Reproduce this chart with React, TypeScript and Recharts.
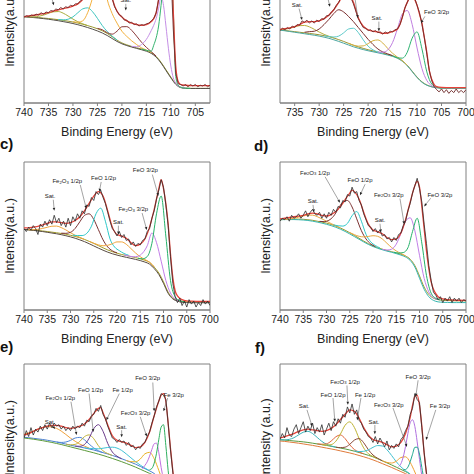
import React from "react";
import {
  LineChart,
  Line,
  XAxis,
  YAxis,
  ReferenceArea,
  ReferenceLine,
  ReferenceDot,
} from "recharts";

const FONT = '"Liberation Sans", Arial, Helvetica, sans-serif';

// energy grids (eV)
const E1 = [740, 739, 738, 737, 736, 735, 734, 733, 732, 731, 730, 729, 728, 727, 726, 725, 724, 723, 722, 721, 720, 719, 718, 717, 716, 715, 714, 713, 712, 711, 710, 709, 708, 707, 706, 705, 704, 703, 702, 701, 700];
const E05 = [
  740, 739.5, 739, 738.5, 738, 737.5, 737, 736.5, 736, 735.5,
  735, 734.5, 734, 733.5, 733, 732.5, 732, 731.5, 731, 730.5,
  730, 729.5, 729, 728.5, 728, 727.5, 727, 726.5, 726, 725.5,
  725, 724.5, 724, 723.5, 723, 722.5, 722, 721.5, 721, 720.5,
  720, 719.5, 719, 718.5, 718, 717.5, 717, 716.5, 716, 715.5,
  715, 714.5, 714, 713.5, 713, 712.5, 712, 711.5, 711, 710.5,
  710, 709.5, 709, 708.5, 708, 707.5, 707, 706.5, 706, 705.5,
  705, 704.5, 704, 703.5, 703, 702.5, 702, 701.5, 701, 700.5,
  700,
];

const TICKS_FULL = [740, 735, 730, 725, 720, 715, 710, 705, 700];
const TICKS_A = [740, 735, 730, 725, 720, 715, 710, 705];
const TICKS_B = [735, 730, 725, 720, 715, 710, 705, 700];

// ---------- panel a ----------
const aBg = [58.3, 58.1, 57.9, 57.7, 57.4, 57.1, 56.7, 56.3, 55.8, 55.3, 54.7, 54, 53.2, 52.3, 51.3, 50.2, 48.8, 47, 44.8, 42.5, 40.6, 39.3, 38.2, 37.3, 36.5, 35.5, 34, 31.5, 27.5, 22.5, 17.5, 13, 10.6, 10, 9.9, 9.9, 9.9, 9.9, 9.9, 9.9, 9.9];
const aBg2 = [58.3, 58, 57.7, 57.4, 57, 56.6, 56.1, 55.6, 55, 54.4, 53.7, 52.9, 52, 51, 49.9, 48.7, 47.3, 45.6, 43.6, 41.6, 40, 38.8, 37.8, 36.9, 36, 35, 33.5, 31, 27, 22, 17, 12.6, 10.4, 9.9, 9.8, 9.8, 9.8, 9.8, 9.8, 9.8, 9.8];
const aRaw = [
  58, 59, 58.5, 59.5, 59, 60, 59.5, 61, 60, 61.5,
  61, 62.5, 62, 63.5, 63, 64.5, 63.5, 65, 64.5, 66,
  65.5, 67, 67, 69, 70, 73, 76, 80, 85, 90,
  95, 97, 98, 94, 88, 80, 71, 65, 62, 59.5,
  58.5, 56, 56, 54, 54.5, 53, 53.5, 52, 53, 52.5,
  53.5, 54, 55.5, 57, 61, 70, 84, 97, 110, 110,
  90, 50, 20, 13, 12.5, 11.5, 12.5, 11, 12.5, 11.5,
  12.5, 11, 12, 11.5, 12.5, 11, 12, 11.5, 12.5, 11,
  12,
];
const aFit = [[740, 58.3], [739, 58.8], [738, 59.3], [737, 59.8], [736, 60.4], [735, 61], [734, 62], [733, 63], [732, 63.8], [731, 64.5], [730, 65.5], [729, 67], [728, 70], [727, 76], [726, 85], [725, 95], [724, 98], [723, 88], [722, 71], [721, 62], [720, 58], [719, 55.5], [718, 54], [717, 53], [716, 52.5], [715, 53], [714, 55], [713.5, 57], [713, 61], [712.5, 70], [712, 84], [711, 110], [710, 105], [709.5, 62], [709, 25], [708.5, 14.5], [708, 12.5], [707, 12], [706, 11.8], [704, 11.8], [700, 11.8]];
const aSat = [[739, 58.2], [738, 58.2], [737, 58.6], [736, 59.4], [735, 60.6], [734, 61.6], [733, 61.8], [732, 60.7], [731, 58.8], [730, 56.7], [729, 54.9], [728, 53.5], [727, 52.3]];
const aCyan = [[733, 56.4], [732, 56.2], [731, 56.6], [730, 58.2], [729, 61], [728, 63.6], [727, 64.3], [726, 61.7], [725, 57.2], [724, 52.3], [723, 48.3], [722, 45.2], [721, 42.6]];
const aOrange = [[730, 54.9], [729, 54.6], [728, 55.5], [727, 61], [726, 71], [725, 84], [724.5, 88], [724, 87], [723, 70], [722, 60.5], [721, 54], [720, 48.5], [719, 45], [718, 42], [717, 39.5], [716, 37.3], [715, 35.8], [714, 34.1]];
const aBrown = [[725, 50.4], [724, 49.5], [723, 47.5], [722, 46.5], [721, 48.5], [720, 51.5], [719, 51.6], [718, 49.1], [717, 45.2], [716, 41.1], [715, 37.6], [714, 34.7], [713, 31.7]];
const aViolet = [[718, 38.3], [717, 38], [716, 39.5], [715, 43], [714, 49], [713.5, 52.5], [713, 57], [712.5, 64], [712, 72], [711.5, 66], [711, 52], [710.5, 37], [710, 25], [709.5, 17], [709, 13.5], [708, 10.7], [707, 10]];
const aGreen = [[716, 36.5], [715, 35.6], [714, 35], [713.5, 39], [713, 44], [712.5, 52], [712, 66], [711.5, 82], [711, 100], [710.5, 112], [710, 100], [709.5, 62], [709, 18], [708.5, 12], [708, 10.7], [707, 10], [706, 9.9]];
const aNotes = [[719.2, 69.3, "Sat."]];
const aArrows = [[719.2, 67, 719.2, 62.5], [734.8, 76, 733.9, 66]];

// ---------- panel b ----------
const bBg = [49.8, 49.5, 49.3, 49, 48.6, 48.2, 47.8, 47.4, 47, 46.6, 46.1, 45.5, 44.8, 43.9, 42.8, 41.6, 40.3, 39, 37.9, 36.9, 36, 35.2, 34.4, 33.6, 32.8, 31.9, 30.5, 28.5, 25.5, 21.5, 17.5, 14.3, 12.2, 11, 10.4, 10.1, 10, 10, 10, 10, 10];
const bBg2 = [49.8, 49.5, 49.2, 48.8, 48.3, 47.8, 47.3, 46.8, 46.3, 45.8, 45.2, 44.5, 43.7, 42.7, 41.6, 40.4, 39.2, 38, 37, 36.1, 35.3, 34.6, 33.9, 33.2, 32.4, 31.5, 30.2, 28.2, 25.2, 21.2, 17.2, 14, 12, 10.9, 10.3, 10, 9.9, 9.9, 9.9, 9.9, 9.9];
const bRaw = [
  48.5, 49.5, 49, 50, 49, 50.5, 49.5, 51, 50, 52,
  51, 53, 52.5, 55.5, 54.5, 56, 54, 55.5, 54, 56,
  55, 57, 56.5, 59, 59, 61.5, 63, 66, 68, 72,
  74, 75, 74, 71, 67, 62, 57, 54, 51, 50.5,
  49, 49.5, 48, 49, 47.5, 48, 46.5, 48, 47, 48.5,
  48, 49.5, 50, 53, 58, 64, 68, 72, 73, 71,
  66, 61, 53, 44, 33, 22, 15, 11, 9, 7.5,
  9.5, 7, 9, 6.5, 8.5, 7, 9.5, 7, 8.5, 7,
  9,
];
const bFit = [[740, 49.5], [739, 49.6], [738, 49.8], [737, 50.2], [736, 50.8], [735, 51.6], [734, 53], [733, 54.6], [732, 55], [731, 55], [730, 55.5], [729, 57], [728, 59.5], [727, 63], [726, 68], [725, 73], [724, 74], [723, 68], [722, 57.5], [721, 52], [720, 49.5], [719, 48.5], [718, 48], [717, 47], [716, 47.3], [715, 48.3], [714, 50], [713.5, 53], [713, 58], [712.5, 64], [712, 68], [711.5, 71], [711, 72], [710.5, 70], [710, 66], [709.5, 60], [709, 54], [708.5, 44], [708, 34], [707.5, 22], [707, 16], [706.5, 12.5], [706, 11], [705, 10.5], [704, 10.4], [700, 10.4]];
const bSat1 = [[740, 49.9], [739, 49.7], [738, 49.6], [737, 49.85], [736, 50.45], [735, 51.4], [734, 52.25], [733, 52.4], [732, 51.45], [731, 49.8], [730, 47.95], [729, 46.35], [728, 45.1], [727, 43.95]];
const bFe2O3a = [[733, 47.8], [732, 48.2], [731, 48.5], [730, 50], [729, 53], [728, 56.5], [727, 60.5], [726, 63], [725, 61.5], [724, 58.5], [723, 55], [722, 51], [721, 47], [720, 43], [719, 39.5], [718, 36.5], [717, 34.5], [716, 33.2], [715, 32]];
const bFeOa = [[729, 45.5], [728, 44.9], [727, 44.6], [726, 45.2], [725, 47.4], [724, 50], [723, 50.5], [722, 47.6], [721, 42.7], [720, 38.4], [719, 35.9], [718, 34.5], [717, 33.6]];
const bSat2 = [[724, 40.3], [723, 39.1], [722, 38.4], [721, 38.6], [720, 40.1], [719, 42.1], [718, 42.6], [717, 40.5], [716, 36.9], [715, 33.6], [714, 31], [713, 28.6], [712, 25.5]];
const bFe2O3b = [[718, 34.4], [717, 34.3], [716, 35.8], [715, 40.9], [714, 50.2], [713, 60.1], [712, 62.5], [711, 53.1], [710, 37.2], [709, 23.3], [708, 15.2], [707, 11.7], [706, 10.4]];
const bFeOb = [[715, 31.9], [714, 30.6], [713, 30.3], [712, 34.3], [711, 43.8], [710, 48], [709, 36.6], [708, 21], [707, 12.8], [706, 10.7], [705, 10.1]];
const bNotes = [[734.5, 66.2, "Sat."], [718.2, 57.4, "Sat."], [706, 61.5, "FeO 3/2p"]];
const bArrows = [[734.1, 63.8, 733.5, 56], [717.8, 55, 717.8, 48.5], [708.4, 58.5, 709.2, 54], [728.6, 76, 727.8, 65], [722.9, 76, 722.1, 57.4]];

// ---------- panel c ----------
const cBg = [54.5, 54.2, 54, 53.7, 53.4, 53, 52.6, 52.2, 51.7, 51.2, 50.5, 49.7, 48.8, 47.7, 46.4, 45, 43.5, 42, 40.6, 39.4, 38.4, 37.5, 36.8, 36.1, 35.4, 34.6, 33.6, 32.2, 29, 25, 19, 12, 8, 6.5, 5.8, 5.6, 5.5, 5.4, 5.4, 5.4, 5.4];
const cBg2 = [54.5, 54.1, 53.8, 53.4, 53, 52.5, 52, 51.5, 50.9, 50.2, 49.4, 48.5, 47.4, 46.2, 44.8, 43.3, 41.8, 40.4, 39.1, 38, 37.1, 36.3, 35.6, 34.9, 34.2, 33.4, 32.4, 31, 28, 24, 18, 11.3, 7.5, 6, 5.2, 5, 4.9, 4.9, 4.9, 4.9, 4.9];
const cRaw = [
  55, 53, 56, 54, 57, 55, 51, 58, 56, 60,
  57, 61, 58, 64, 59, 62, 57, 60, 56, 62,
  57, 63, 60, 65, 62, 67, 65, 71, 70, 76,
  74, 80, 78, 81, 76, 72, 66, 60, 55, 53,
  50, 53, 49, 51, 47, 48, 44, 46, 43, 45,
  44, 47, 48, 53, 55, 62, 67, 75, 81, 88,
  83, 71, 57, 36, 18, 9, 5, 8, 3, 6,
  2, 7, 4, 6, 2, 5, 3, 7, 4, 6,
  3,
];
const cFit = [[740, 55.5], [739, 55.5], [738, 56], [737, 56.5], [736, 57.5], [735, 58.5], [734, 59.5], [733, 59.5], [732, 59], [731, 58.5], [730, 59], [729, 60.5], [728, 63], [727, 67], [726, 72], [725, 77], [724, 80], [723, 77], [722, 67], [721, 56], [720, 51], [719, 50], [718, 48.5], [717, 45.5], [716, 43.5], [715, 44.5], [714, 48], [713, 56], [712, 68], [711, 82], [710.5, 88], [710, 82], [709.5, 72], [709, 58], [708.5, 38], [708, 22], [707.5, 13], [707, 9.5], [706, 7], [705, 6.2], [704, 6], [702, 5.8], [700, 5.8]];
const cSat1 = [[739, 54.3], [738, 54.3], [737, 54.5], [736, 55.1], [735, 55.9], [734, 56.6], [733, 56.7], [732, 55.7], [731, 54.1], [730, 52.2], [729, 50.5], [728, 49.1], [727, 47.7]];
const cFe2O3a = [[732, 51.9], [731, 51.8], [730, 52.5], [729, 55.1], [728, 59.6], [727, 63.9], [726, 65], [725, 61.2], [724, 54.3], [723, 47.4], [722, 42.6], [721, 40], [720, 38.6]];
const cFeOa = [[729.5, 50.6], [728.5, 50.3], [727.5, 50.3], [726.5, 51.8], [725.5, 56.6], [724.5, 65.1], [723.5, 68.8], [722.5, 60], [721.5, 48], [720.5, 42.5], [719.5, 40.1], [718.5, 38.2], [717.5, 37]];
const cSat2 = [[726, 46.4], [725, 45.1], [724, 44], [723, 43.4], [722, 43.7], [721, 44.8], [720, 46], [719, 46], [718, 44.4], [717, 41.5], [716, 38.5], [715, 36], [714, 34.1], [713, 32.3], [712, 29.2]];
const cFe2O3b = [[718.5, 37.2], [717.5, 36.5], [716.5, 35.95], [715.5, 36.3], [714.5, 38.5], [713.5, 43.4], [712.5, 52], [711.5, 45.5], [710.5, 33], [709.5, 20], [708.5, 11.5], [707.5, 7.5], [706.5, 6.2]];
const cFeOb = [[715.5, 35], [714.5, 34.6], [713.5, 36.1], [712.5, 45], [711.5, 65], [710.5, 77], [709.5, 50], [708.5, 20], [707.5, 9], [706.5, 6.3], [705.5, 5.7]];
const cNotes = [[734.4, 77, "Sat."], [730.7, 87, "Fe2O3 1/2p"], [722.9, 89, "FeO 1/2p"], [713.9, 94, "FeO 3/2p"], [716.5, 68, "Fe2O3 3/2p"], [719.7, 59.5, "Sat."]];
const cArrows = [[733.7, 74.5, 733.5, 67], [727.9, 84.5, 726.6, 68.5], [723.4, 86.5, 723.8, 80], [712.4, 91.5, 711.1, 77], [714.6, 65.5, 713.6, 54], [719.7, 57, 719.7, 51]];

// ---------- panel d ----------
const dBg = [61, 61.2, 61.3, 61.4, 61.4, 61.3, 61, 60.6, 60, 59.4, 58.7, 57.8, 56.7, 55.4, 53.9, 52.2, 50.4, 48.5, 46.6, 44.8, 43.3, 42.1, 41.1, 40.2, 39.4, 38.6, 37.7, 36.5, 34.3, 30, 23, 15.5, 10.5, 8, 7, 6.6, 6.4, 6.3, 6.2, 6.2, 6.2];
const dBg2 = [61, 61.1, 61.1, 61.1, 61, 60.8, 60.5, 60, 59.4, 58.7, 57.9, 57, 55.9, 54.6, 53.1, 51.4, 49.6, 47.8, 46, 44.3, 42.9, 41.7, 40.7, 39.8, 39, 38.1, 37.1, 35.8, 33.5, 29, 21.5, 14, 9, 6.5, 5.5, 5.2, 5.1, 5, 5, 5, 5];
const dRaw = [
  60, 62, 61, 63, 60, 64, 62, 63, 65, 62,
  64, 67, 63, 66, 68, 65, 64, 66, 62, 65,
  62, 66, 64, 68, 66, 70, 69, 74, 73, 78,
  77, 83, 79, 80, 74, 71, 65, 61, 57, 56,
  53, 55, 52, 54, 50, 51, 48, 49, 46, 49,
  47, 51, 52, 57, 60, 67, 72, 79, 84, 89,
  82, 73, 58, 45, 30, 20, 12, 10, 7, 9,
  5, 8, 6, 9, 5, 8, 6, 8, 5, 7,
  6,
];
const dFit = [[740, 61.5], [739, 62], [738, 62.5], [737, 63], [736, 63.5], [735, 64], [734, 65], [733, 65.5], [732, 65], [731, 64], [730, 63.5], [729, 64.5], [728, 66.5], [727, 70], [726, 74.5], [725, 79], [724.5, 81], [724, 80], [723, 75], [722, 66], [721, 58], [720, 54], [719, 53], [718, 51.5], [717, 49], [716, 47.5], [715, 48], [714, 52], [713, 61], [712, 73], [711, 84], [710.5, 87], [710, 83], [709.5, 70], [709, 55], [708.5, 40], [708, 28], [707.5, 19], [707, 14], [706.5, 11], [706, 9], [705, 7.5], [704, 7], [702, 6.6], [700, 6.5]];
const dSat1 = [[739, 61.2], [738, 61.4], [737, 62], [736, 62.7], [735, 63.5], [734, 64.1], [733, 64.1], [732, 63.1], [731, 61.6], [730, 60], [729, 58.4], [728, 56.9], [727, 55.4]];
const dFe2O3a = [[731.5, 59.9], [730.5, 59.7], [729.5, 60.6], [728.5, 63.3], [727.5, 68.2], [726.5, 72.9], [725.5, 74], [724.5, 69.6], [723.5, 61.6], [722.5, 53.6], [721.5, 48], [720.5, 44.7], [719.5, 42.9]];
const dFeOa = [[728.5, 57.6], [727.5, 56.9], [726.5, 56.7], [725.5, 58.5], [724.5, 63.7], [723.5, 66.5], [722.5, 60], [721.5, 51.1], [720.5, 46.1], [719.5, 43.6], [718.5, 41.9]];
const dSat2 = [[725, 52.3], [724, 50.9], [723, 49.8], [722, 49.4], [721, 49.7], [720, 50.2], [719, 49.8], [718, 48], [717, 45.1], [716, 42.2], [715, 39.9], [714, 38.2], [713, 36.6]];
const dFe2O3b = [[718, 41.1], [717, 40.5], [716, 41.1], [715, 44.5], [714, 51.7], [713, 60], [712, 62.3], [711, 53.5], [710, 37], [709, 21.4], [708, 12.2], [707, 8.3], [706, 7]];
const dFeOb = [[715.5, 39], [714.5, 38.5], [713.5, 38.8], [712.5, 42], [711.5, 53], [710.5, 62], [709.5, 45.2], [708.5, 23.3], [707.5, 11.4], [706.5, 7.9], [705.5, 6.8]];
const dNotes = [[732.5, 92.6, "Fe2O3 1/2p"], [722.8, 87.8, "FeO 1/2p"], [732.9, 73.6, "Sat."], [716.6, 77.7, "Fe2O3 3/2p"], [718.5, 60.8, "Sat."], [705.6, 77.7, "FeO 3/2p"]];
const dArrows = [[730.3, 90, 727.1, 72.5], [721.7, 85, 722.8, 77.5], [732.9, 71, 732.7, 66], [714.2, 75.3, 713.3, 58], [718.5, 58.3, 718.3, 52.5], [707.6, 75.5, 709, 70]];

// ---------- panel e ----------
const eBg = [50.5, 50.2, 49.8, 49.4, 49, 48.5, 47.9, 47.3, 46.6, 45.9, 45.1, 44.5, 43.9, 43.3, 42.6, 41.9, 41, 40.1, 39.2, 38.2, 37.2, 36, 34.8, 33.6, 32.3, 30.8, 29.3, 27.8, 26, 23, 18, 12, 7, 5, 4.5, 4.3, 4.2, 4.2, 4.2, 4.2, 4.2];
const eBg2 = [50, 49.6, 49.2, 48.7, 48.2, 47.6, 47, 46.3, 45.6, 44.8, 44, 43.2, 42.4, 41.6, 40.8, 40, 39.1, 38.2, 37.2, 36.2, 35.1, 34, 32.8, 31.6, 30.3, 28.9, 27.5, 26.1, 24.5, 21.8, 17, 11.5, 6.8, 4.8, 4.3, 4.1, 4, 4, 4, 4, 4];
const eRaw = [
  50, 55, 51, 57, 52, 56, 54, 58, 55, 59,
  56, 60, 57, 60, 58, 59, 56, 58, 55, 57,
  55, 58, 56, 58, 57, 60, 58, 62, 61, 65,
  66, 70, 68, 72, 66, 63, 58, 54, 50, 49,
  47, 49, 47, 48, 45, 47, 44, 45, 42, 44,
  43, 46, 47, 51, 54, 60, 65, 71, 75, 80,
  79, 76, 60, 42, 27, 14, 8, 6, 4, 7,
  3, 6, 4, 7, 3, 6, 4, 6, 3, 5,
  4,
];
const eFit = [[740, 52], [739, 53], [738, 54.5], [737, 56], [736, 57], [735, 58], [734, 58.5], [733, 58.5], [732, 58], [731, 57], [730, 56.5], [729, 57], [728, 58], [727, 59.5], [726, 62.5], [725, 66.5], [724, 70], [723.5, 70.5], [723, 67], [722, 59], [721, 51.5], [720, 48.5], [719, 47.5], [718, 46.5], [717, 45], [716, 43.5], [715, 44], [714, 47], [713, 54], [712, 65], [711, 75], [710.5, 79], [710, 80], [709.5, 75], [709, 60], [708.5, 43], [708, 28], [707.5, 15], [707, 9], [706, 6], [705, 5], [700, 4.5]];
const eSat1 = [[740, 52.5], [739, 53.5], [738, 54.6], [737, 55.9], [736, 57.1], [735, 57.7], [734, 57.5], [733, 56.5], [732, 54.7], [731, 52.4], [730, 49.9], [729, 47.8], [728, 45.9], [727, 44.5], [726, 43.2]];
const eFe2O3a = [[733, 47.3], [732, 47], [731, 47.3], [730, 48.4], [729, 50], [728, 50.4], [727, 48.8], [726, 45.9], [725, 43.3], [724, 41.4], [723, 40.1]];
const eFeOa = [[731, 45.9], [730, 45.4], [729, 45.7], [728, 47.7], [727, 50.9], [726, 52.1], [725, 49.5], [724, 44.8], [723, 41.3], [722, 39.5], [721, 38.2]];
const eFea = [[729, 44.5], [728, 44.4], [727, 45.6], [726, 49.8], [725, 56.3], [724, 59], [723, 54.5], [722, 46.4], [721, 40.5], [720, 37.7], [719, 36]];
const eSat2 = [[727, 43.4], [726, 43], [725, 42.8], [724, 42.7], [723, 43.1], [722, 43.6], [721, 43.8], [720, 43.2], [719, 41.6], [718, 39.2], [717, 36.6], [716, 34], [715, 31.7], [714, 29.7], [713, 27.9]];
const eFe2O3b = [[718, 34.8], [717, 34], [716, 33.9], [715, 35.8], [714, 39.3], [713, 40.3], [712, 36], [711, 28], [710, 19.6], [709, 12.4], [708, 7]];
const eFeOb = [[714.5, 29.3], [714, 31.5], [713.5, 33.9], [713, 37.7], [712.5, 42.3], [712, 46.1], [711.5, 46.5], [711, 40], [710.5, 30], [710, 22], [709.5, 15], [709, 12.2], [708.5, 9.6]];
const eFeb = [[713, 28.6], [712.5, 29.4], [712, 33], [711.5, 39.7], [711, 49.2], [710.5, 57.4], [710, 59], [709.5, 45], [709, 28], [708.5, 16], [708, 9], [707.5, 6.2], [707, 5.1]];
const eNotes = [[734.4, 60.8, "Sat."], [732.2, 77, "Fe2O3 1/2p"], [725.7, 82.4, "FeO 1/2p"], [718.8, 82.4, "Fe 1/2p"], [713.4, 90, "FeO 3/2p"], [707.8, 79, "Fe 3/2p"], [716, 66.9, "Fe2O3 3/2p"], [719, 57.4, "Sat."]];
const eArrows = [[734, 58.8, 733.3, 56], [729.9, 74.5, 728.7, 52], [726, 80, 725.1, 54], [719.5, 80, 722.3, 62], [712.3, 87.5, 712, 68], [709.1, 77, 710, 68], [715, 64.3, 713.6, 51], [719, 55.3, 719, 50.5]];

// ---------- panel f ----------
const fBg = [48.8, 48.6, 48.3, 48, 47.7, 47.4, 47, 46.5, 46, 45.5, 45, 44.4, 43.8, 43.2, 42.6, 41.9, 41.1, 40.2, 39.3, 38.3, 37.3, 36, 34.6, 33.2, 31.8, 30.3, 28.8, 27.3, 25.5, 23, 18.5, 12.5, 7.5, 5.5, 5, 4.8, 4.7, 4.7, 4.7, 4.7, 4.7];
const fBg2 = [48, 47.7, 47.3, 46.9, 46.5, 46, 45.5, 45, 44.4, 43.8, 43.2, 42.6, 42, 41.3, 40.6, 39.9, 39.1, 38.2, 37.3, 36.3, 35.2, 34, 32.7, 31.4, 30.1, 28.7, 27.3, 25.9, 24.2, 21.8, 17.5, 12, 7.2, 5.3, 4.8, 4.6, 4.5, 4.5, 4.5, 4.5, 4.5];
const fRaw = [
  49, 53, 50, 57, 52, 51, 56, 59, 53, 57,
  61, 54, 58, 55, 60, 53, 57, 54, 59, 52,
  56, 60, 55, 61, 58, 63, 60, 66, 64, 71,
  67, 73, 66, 69, 62, 60, 56, 54, 51, 50,
  47, 51, 46, 50, 47, 44, 48, 42, 45, 43,
  46, 44, 49, 51, 55, 58, 66, 70, 80, 76,
  74, 57, 40, 26, 17, 11, 7, 8, 4, 6,
  3, 7, 5, 3, 6, 4, 7, 4, 5, 3,
  5,
];
const fFit = [[740, 50], [739, 51], [738, 52], [737, 53], [736, 54.5], [735, 55.5], [734, 56], [733, 55.5], [732, 55], [731, 54.5], [730, 55], [729, 56.5], [728, 59], [727, 62.5], [726, 66], [725, 69], [724, 68], [723, 63.5], [722, 57], [721, 52], [720, 49], [719, 48], [718, 47], [717, 45.5], [716, 44], [715, 44.5], [714, 47], [713, 53], [712, 64], [711.5, 72], [711, 78], [710.5, 79], [710, 72], [709.5, 58], [709, 40], [708.5, 26], [708, 17], [707.5, 11], [707, 8], [706, 6], [705, 5.5], [700, 5]];
const fSat1 = [[740, 48.8], [739, 48.7], [738, 49.1], [737, 50.2], [736, 52.1], [735, 53.9], [734, 54.5], [733, 53], [732, 50.4], [731, 47.7], [730, 45.8], [729, 44.6], [728, 43.8]];
const fFeOa = [[732, 46], [731, 45.8], [730, 46.1], [729, 47.9], [728, 50.8], [727, 52], [726, 49.6], [725, 45.4], [724, 42.2], [723, 40.5], [722, 39.3]];
const fFe2O3a = [[731, 45.5], [730, 45.2], [729, 45.5], [728, 47.8], [727, 52.7], [726, 58.6], [725, 60.9], [724, 57.1], [723, 49.7], [722, 43.3], [721, 39.4], [720, 37.5], [719, 36]];
const fFea = [[728, 43.8], [727, 43.5], [726, 43.8], [725, 45.7], [724, 48.6], [723, 49.6], [722, 46.8], [721, 42.1], [720, 38.5], [719, 36.3], [718, 34.6]];
const fSat2 = [[724, 41.3], [723, 40.8], [722, 41], [721, 42], [720, 43.7], [719, 44.9], [718, 44.6], [717, 42.1], [716, 38.2], [715, 34], [714, 30.5], [713, 27.9], [712, 25.7]];
const fFe2O3b = [[718, 34.6], [717, 33.5], [716, 33.1], [715, 34.3], [714, 36.8], [713, 37.3], [712, 33.5], [711, 27], [710, 19.8], [709, 12.8], [708, 7.5]];
const fFeOb = [[714.5, 30.6], [714, 32.6], [713.5, 37.2], [713, 44.4], [712.5, 53], [712, 60.3], [711.5, 62.3], [711, 57.8], [710.5, 47.4], [710, 35.6], [709.5, 24.6], [709, 16.3], [708.5, 11.1]];
const fFeb = [[713.5, 28.5], [713, 28.7], [712.5, 30.3], [712, 34], [711.5, 39], [711, 43.7], [710.5, 43.8], [710, 39.2], [709.5, 30.2], [709, 21], [708.5, 13.9], [708, 8.9], [707.5, 7]];
const fNotes = [[734.8, 71, "Sat."], [728.6, 79, "FeO 1/2p"], [726, 87.8, "Fe2O3 1/2p"], [721.7, 79, "Fe 1/2p"], [719.8, 60.8, "Sat."], [716.6, 72.3, "Fe2O3 3/2p"], [710.3, 91, "FeO 3/2p"], [705.6, 71, "Fe 3/2p"]];
const fArrows = [[734.2, 69, 733.1, 58], [728.6, 77, 728.2, 61], [725.6, 85.5, 725.4, 72.5], [722.6, 77, 723.4, 62], [719.6, 58.8, 719.6, 52.5], [715.7, 70.3, 712.7, 44], [710.3, 89, 710.8, 78], [706.5, 69, 708.6, 48.6]];

type Pt = { e: number; v: number };
const zip = (e: number[], v: number[]): Pt[] => e.map((x, i) => ({ e: x, v: v[i] }));
const pairs = (p: number[][]): Pt[] => p.map(([e, v]) => ({ e, v }));

type Series = { pts: Pt[]; color: string; w?: number; linear?: boolean };

const RED = "#e8433a";

function Tag(props: any) {
  const { cx, cy, text } = props;
  if (cx == null || cy == null) return null;
  const m = /^Fe2O3 (.*)$/.exec(text);
  return (
    <text x={cx} y={cy} textAnchor="middle" dominantBaseline="middle" fontSize={6} fill="#222" fontFamily={FONT}>
      {m ? (
        <>
          <tspan>Fe</tspan>
          <tspan fontSize={4.2} dy={1.4}>2</tspan>
          <tspan dy={-1.4}>O</tspan>
          <tspan fontSize={4.2} dy={1.4}>3</tspan>
          <tspan dy={-1.4}>{" " + m[1]}</tspan>
        </>
      ) : (
        text
      )}
    </text>
  );
}

function Arrow(props: any) {
  const { x1, y1, x2, y2 } = props;
  if ([x1, y1, x2, y2].some((n) => typeof n !== "number")) return null;
  const dx = x2 - x1;
  const dy = y2 - y1;
  const len = Math.hypot(dx, dy) || 1;
  const ux = dx / len;
  const uy = dy / len;
  const bx = x2 - ux * 3;
  const by = y2 - uy * 3;
  const head = `${x2},${y2} ${bx - uy * 1.3},${by + ux * 1.3} ${bx + uy * 1.3},${by - ux * 1.3}`;
  return (
    <g>
      <line x1={x1} y1={y1} x2={bx} y2={by} stroke="#666" strokeWidth={0.6} />
      <polygon points={head} fill="#222" />
    </g>
  );
}

function Panel(props: {
  left: number;
  top: number;
  lo: number;
  hi: number;
  ticks: number[];
  series: Series[];
  notes: any[];
  arrows: number[][];
}) {
  const { left, top, lo, hi, ticks, series, notes, arrows } = props;
  return (
    <div style={{ position: "absolute", left, top }}>
      <LineChart width={237} height={192} margin={{ top: 4, right: 27, bottom: 6, left: 24 }}>
        <XAxis
          type="number"
          dataKey="e"
          domain={[lo, hi]}
          reversed
          allowDataOverflow
          ticks={ticks}
          interval={0}
          tick={{ fontSize: 10.5, fill: "#222", fontFamily: FONT }}
          tickSize={3}
          tickMargin={3}
          stroke="#808080"
          height={34}
          label={{ value: "Binding Energy (eV)", position: "insideBottom", offset: 1, fontSize: 12.5, fill: "#222", fontFamily: FONT }}
        />
        <YAxis type="number" domain={[0, 100]} allowDataOverflow hide />
        {series.map((s, i) => (
          <Line
            key={i}
            data={s.pts}
            dataKey="v"
            type={s.linear ? "linear" : "monotone"}
            stroke={s.color}
            strokeWidth={s.w ?? 1}
            dot={false}
            activeDot={false}
            isAnimationActive={false}
          />
        ))}
        {arrows.map((a, i) => (
          <ReferenceLine key={"a" + i} segment={[{ x: a[0], y: a[1] }, { x: a[2], y: a[3] }]} shape={Arrow} />
        ))}
        {notes.map((n, i) => (
          <ReferenceDot key={"n" + i} x={n[0]} y={n[1]} r={0} shape={(p: any) => <Tag {...p} text={n[2]} />} />
        ))}
        <ReferenceArea x1={lo} x2={hi} y1={0} y2={100} fill="none" fillOpacity={0} stroke="#808080" strokeWidth={1} />
      </LineChart>
    </div>
  );
}

const yLabel = (x: number, y: number, text: string) => (
  <div
    style={{
      position: "absolute",
      left: x,
      top: y,
      transform: "translate(-50%, -50%) rotate(-90deg)",
      fontSize: 12.5,
      lineHeight: 1,
      whiteSpace: "nowrap",
      color: "#222",
    }}
  >
    {text}
  </div>
);

const letter = (x: number, y: number, text: string) => (
  <div style={{ position: "absolute", left: x, top: y, fontSize: 15, fontWeight: 700, lineHeight: 1, color: "#111" }}>{text}</div>
);

export default function App() {
  const aSeries: Series[] = [
    { pts: zip(E1, aBg), color: "#9a9a30" },
    { pts: zip(E1, aBg2), color: "#55504a" },
    { pts: pairs(aSat), color: "#a8ad3c" },
    { pts: pairs(aCyan), color: "#3fc6c0" },
    { pts: pairs(aOrange), color: "#f3b13e" },
    { pts: pairs(aBrown), color: "#8b3a3a" },
    { pts: pairs(aViolet), color: "#c58fe6" },
    { pts: pairs(aGreen), color: "#34b36e" },
    { pts: pairs(aFit), color: RED, w: 1.3 },
    { pts: zip(E05, aRaw), color: "#6e2a2a", w: 0.9, linear: true },
  ];
  const bSeries: Series[] = [
    { pts: zip(E1, bBg), color: "#9b9532" },
    { pts: zip(E1, bBg2), color: "#4aa6a0" },
    { pts: pairs(bSat1), color: "#b7ad3e" },
    { pts: pairs(bFe2O3a), color: "#7b2f2f" },
    { pts: pairs(bFeOa), color: "#5ccaca" },
    { pts: pairs(bSat2), color: "#d4b040" },
    { pts: pairs(bFe2O3b), color: "#c07ee0" },
    { pts: pairs(bFeOb), color: "#2fb372" },
    { pts: pairs(bFit), color: RED, w: 1.3 },
    { pts: zip(E05, bRaw), color: "#6e2a2a", w: 0.9, linear: true },
  ];
  const cSeries: Series[] = [
    { pts: zip(E1, cBg), color: "#a39d2a" },
    { pts: zip(E1, cBg2), color: "#574a42" },
    { pts: pairs(cSat1), color: "#f0a43a" },
    { pts: pairs(cFe2O3a), color: "#7b3030" },
    { pts: pairs(cFeOa), color: "#2ec8c8" },
    { pts: pairs(cSat2), color: "#f0a43a" },
    { pts: pairs(cFe2O3b), color: "#c27ee8" },
    { pts: pairs(cFeOb), color: "#25b26a" },
    { pts: pairs(cFit), color: RED, w: 1.3 },
    { pts: zip(E05, cRaw), color: "#2b2b2b", w: 0.8, linear: true },
  ];
  const dSeries: Series[] = [
    { pts: zip(E1, dBg), color: "#9c982e" },
    { pts: zip(E1, dBg2), color: "#38b6b0" },
    { pts: pairs(dSat1), color: "#e8a840" },
    { pts: pairs(dFe2O3a), color: "#7b3030" },
    { pts: pairs(dFeOa), color: "#2ec8c8" },
    { pts: pairs(dSat2), color: "#e8a840" },
    { pts: pairs(dFe2O3b), color: "#c27ee8" },
    { pts: pairs(dFeOb), color: "#25b26a" },
    { pts: pairs(dFit), color: RED, w: 1.3 },
    { pts: zip(E05, dRaw), color: "#2b2b2b", w: 0.8, linear: true },
  ];
  const eSeries: Series[] = [
    { pts: zip(E1, eBg), color: "#4a7fd0" },
    { pts: zip(E1, eBg2), color: "#5c9a3a" },
    { pts: pairs(eSat1), color: "#f0a03a" },
    { pts: pairs(eFe2O3a), color: "#4f86d6" },
    { pts: pairs(eFeOa), color: "#c2b23a" },
    { pts: pairs(eFea), color: "#6a3a8a" },
    { pts: pairs(eSat2), color: "#40c2d6" },
    { pts: pairs(eFe2O3b), color: "#e9b224" },
    { pts: pairs(eFeOb), color: "#c070e0" },
    { pts: pairs(eFeb), color: "#30b060" },
    { pts: pairs(eFit), color: RED, w: 1.3 },
    { pts: zip(E05, eRaw), color: "#2b2b2b", w: 0.8, linear: true },
  ];
  const fSeries: Series[] = [
    { pts: zip(E1, fBg), color: "#5a9a40" },
    { pts: zip(E1, fBg2), color: "#e07a3a" },
    { pts: pairs(fSat1), color: "#3ab2b8" },
    { pts: pairs(fFeOa), color: "#e0653a" },
    { pts: pairs(fFe2O3a), color: "#bdb232" },
    { pts: pairs(fFea), color: "#8a4a3a" },
    { pts: pairs(fSat2), color: "#40c0d0" },
    { pts: pairs(fFe2O3b), color: "#f0a030" },
    { pts: pairs(fFeOb), color: "#b070e0" },
    { pts: pairs(fFeb), color: "#20a890" },
    { pts: pairs(fFit), color: RED, w: 1.3 },
    { pts: zip(E05, fRaw), color: "#2b2b2b", w: 0.8, linear: true },
  ];

  return (
    <div
      style={{
        position: "fixed",
        left: 0,
        top: 0,
        width: 474,
        height: 474,
        overflow: "hidden",
        background: "#fff",
        fontFamily: FONT,
      }}
    >
      <Panel left={0} top={-49} lo={702} hi={740} ticks={TICKS_A} series={aSeries} notes={aNotes} arrows={aArrows} />
      <Panel left={256} top={-49} lo={700} hi={738} ticks={TICKS_B} series={bSeries} notes={bNotes} arrows={bArrows} />
      <Panel left={0} top={158} lo={700} hi={740} ticks={TICKS_FULL} series={cSeries} notes={cNotes} arrows={cArrows} />
      <Panel left={256} top={158} lo={700} hi={740} ticks={TICKS_FULL} series={dSeries} notes={dNotes} arrows={dArrows} />
      <Panel left={0} top={360} lo={700} hi={740} ticks={TICKS_FULL} series={eSeries} notes={eNotes} arrows={eArrows} />
      <Panel left={256} top={360} lo={700} hi={740} ticks={TICKS_FULL} series={fSeries} notes={fNotes} arrows={fArrows} />

      {yLabel(10, 29, "Intensity(a.u.)")}
      {yLabel(266, 29, "Intensity(a.u.)")}
      {yLabel(10, 236, "Intensity(a.u.)")}
      {yLabel(266, 236, "Intensity(a.u.)")}
      {yLabel(10, 438, "Intensity(a.u.)")}
      {yLabel(266, 438, "Intensity (a.u.)")}

      {letter(0, 136, "c)")}
      {letter(254, 138, "d)")}
      {letter(0, 339, "e)")}
      {letter(255, 340, "f)")}
    </div>
  );
}
